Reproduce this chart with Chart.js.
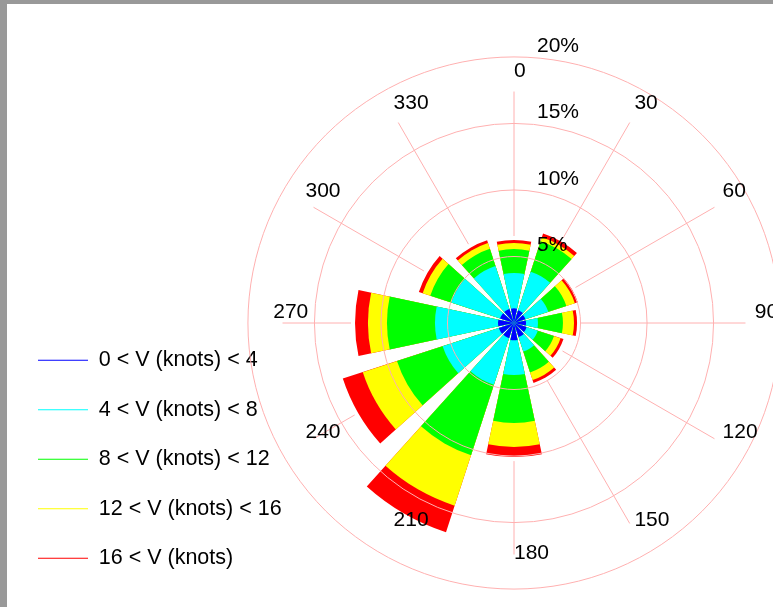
<!DOCTYPE html>
<html>
<head>
<meta charset="utf-8">
<title>Wind rose</title>
<script src="https://cdn.jsdelivr.net/npm/chart.js@4.4.1/dist/chart.umd.min.js"></script>
<style>
  html, body { margin: 0; padding: 0; background: #fff; overflow: hidden; }
  #wrap { position: relative; width: 773px; height: 607px; overflow: hidden; }
  #rose { position: absolute; left: 0; top: 0; }
  .edge { position: absolute; background: #999; }
</style>
</head>
<body>
<div id="wrap">
  <canvas id="rose" width="1018" height="622"></canvas>
  <div class="edge" style="left:0;top:0;width:773px;height:4px"></div>
  <div class="edge" style="left:0;top:0;width:7px;height:607px"></div>
</div>
<script>
const directions = ["0", "30", "60", "90", "120", "150", "180", "210", "240", "270", "300", "330"];
const speedBins = ["0 < V (knots) < 4", "4 < V (knots) < 8", "8 < V (knots) < 12", "12 < V (knots) < 16", "16 < V (knots)"];
const binColors = ["#0000ff", "#00ffff", "#00ff00", "#ffff00", "#ff0000"];
const ringTicks = [5, 10, 15, 20];

// % of time in each speed class, per direction
const v0to4   = [1.1, 1.0, 0.9, 0.9, 1.0, 1.1, 1.3, 1.2, 1.2, 1.2, 1.1, 1.1];
const v4to8   = [2.66, 3.06, 1.81, 0.90, 0.88, 1.16, 2.61, 3.69, 4.44, 4.74, 3.86, 3.41];
const v8to12  = [1.80, 2.41, 1.43, 1.88, 1.28, 1.65, 3.61, 5.56, 3.61, 3.61, 1.66, 1.35];
const v12to16 = [0.46, 0.30, 0.67, 0.83, 0.52, 0.60, 1.80, 3.99, 2.70, 1.43, 0.60, 0.46];
const v16up   = [0.22, 0.30, 0.23, 0.23, 0.23, 0.23, 0.76, 2.10, 1.58, 0.97, 0.30, 0.22];

// stack the classes: each ring is drawn out to the running total
const bins = [v0to4, v4to8, v8to12, v12to16, v16up];
let running = directions.map(() => 0);
const stacked = bins.map(b => {
    running = running.map((r, i) => r + b[i]);
    return running;
});
const totals = stacked[stacked.length - 1];

const wedge = 24;      // degrees per bar
const gap = 6;         // degrees between bars
const spokeEnd = 17.4; // spokes stop short of the 20% ring
const labelRadius = 18.1;

// one label slot every 6 degrees, the spokes sit on every fifth one
const slots = Array.from({length: 60}, (_, i) => (i - 2) % 5 === 0 ? directions[(i - 2) / 5] : "");

const roseLabels = {
    id: 'roseLabels',
    afterDraw(chart) {
        const r = chart.scales.r;
        const ctx = chart.ctx;
        ctx.save();
        ctx.font = '21px "Liberation Sans", Arial, sans-serif';
        ctx.fillStyle = '#000';
        ctx.textAlign = 'left';
        ctx.textBaseline = 'middle';
        directions.forEach((d, k) => {
            const p = r.getPointPositionForValue(2 + 5 * k, labelRadius);
            ctx.fillText(d, p.x, p.y - 11);
        });
        ringTicks.forEach(v => {
            ctx.fillText(v + '%', r.xCenter + 23, r.yCenter - r.getDistanceFromCenterForValue(v) - 11);
        });
        ctx.restore();
    }
};

new Chart(document.getElementById("rose"), {
    type: 'polarArea',
    data: {
        labels: slots,
        datasets: stacked.map((cum, j) => ({
            label: speedBins[j],
            data: cum.flatMap(v => [v, 0]),
            backgroundColor: binColors[j],
            borderWidth: 0,
            angle: c => c.dataIndex % 2 ? gap : wedge
        }))
    },
    options: {
        responsive: false,
        animation: false,
        events: [],
        layout: { padding: { left: 10, top: 25, right: 0, bottom: 0 } },
        scales: {
            r: {
                min: 0,
                max: 22.4,
                startAngle: -wedge / 2,
                afterBuildTicks: s => { s.ticks = s.ticks.filter(t => t.value % 5 === 0); },
                ticks: { display: false, stepSize: 5 },
                grid: { circular: true, color: '#ffb0b0', lineWidth: 1, z: 1 },
                angleLines: {
                    display: true,
                    color: '#ffb0b0',
                    lineWidth: c => (c.index - 2) % 5 === 0 ? 1 : 0,
                    borderDash: c => {
                        const k = (c.index - 2) / 5;
                        if (!Number.isInteger(k)) return [];
                        const s = c.scale;
                        const from = s.getDistanceFromCenterForValue(totals[k]) + 4;
                        const to = s.getDistanceFromCenterForValue(spokeEnd);
                        return [0, from, to - from, 3000];
                    }
                },
                pointLabels: { display: false }
            }
        },
        plugins: {
            tooltip: { enabled: false },
            legend: {
                position: 'chartArea',
                align: 'end',
                labels: {
                    boxWidth: 50,
                    boxHeight: 1,
                    padding: 28,
                    color: '#000',
                    font: { family: '"Liberation Sans", Arial, sans-serif', size: 21.5 },
                    generateLabels: () => speedBins.map((t, j) => ({
                        text: t,
                        fillStyle: binColors[j],
                        strokeStyle: binColors[j],
                        lineWidth: 0,
                        hidden: false,
                        datasetIndex: j
                    }))
                }
            }
        }
    },
    plugins: [roseLabels]
});
</script>
</body>
</html>
